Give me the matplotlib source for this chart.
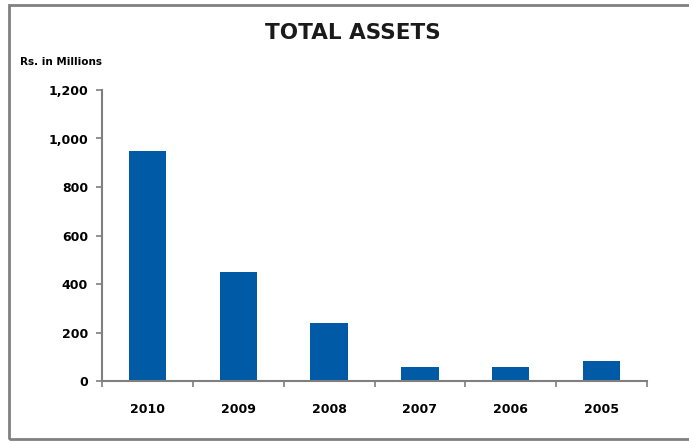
import matplotlib
matplotlib.use('Agg')
import matplotlib.pyplot as plt
from matplotlib.patches import Rectangle
import numpy as np

years = ["2010", "2009", "2008", "2007", "2006", "2005"]
assets = [950, 450, 240, 56, 56, 84]
y_ticks = [0, 200, 400, 600, 800, 1000, 1200]

fig = plt.figure(figsize=(6.89, 4.42), dpi=100)
ax = fig.add_axes([102 / 689, 1 - 381 / 442, 545 / 689, 291 / 442])

x = np.arange(len(years))
ax.bar(x, assets, width=0.41, color='#005aa6')

ax.set_xlim(-0.5, len(years) - 0.5)
ax.set_ylim(0, 1200)
ax.set_yticks(y_ticks)
ax.set_yticklabels([f"{v:,}" for v in y_ticks], fontsize=9, fontweight='bold')
ax.set_xticks(x)
ax.set_xticklabels(years, fontsize=9, fontweight='bold')
ax.tick_params(axis='x', length=0, pad=16)
ax.tick_params(axis='y', length=4, width=1.2, color='#7f7f7f', pad=6)

# category separators on the x axis
ax.set_xticks(np.arange(len(years) + 1) - 0.5, minor=True)
ax.tick_params(axis='x', which='minor', length=4, width=1.2, color='#7f7f7f')

for side in ['top', 'right']:
    ax.spines[side].set_visible(False)
for side in ['left', 'bottom']:
    ax.spines[side].set_color('#7f7f7f')
    ax.spines[side].set_linewidth(1.5)

fig.text(353 / 689, 1 - 33 / 442, "TOTAL ASSETS", ha='center', va='center',
         fontsize=15.5, fontweight='bold', family='DejaVu Sans',
         color='#1a1a1a')
fig.text(20 / 689, 1 - 62 / 442, "Rs. in Millions", ha='left', va='center',
         fontsize=7.5, fontweight='bold')

# outer frame
fig.patches.append(Rectangle((9 / 689, 3 / 442), 690 / 689, 434 / 442,
                             transform=fig.transFigure, fill=False,
                             edgecolor='#808080', linewidth=2))

fig.savefig("out.png", dpi=100)
